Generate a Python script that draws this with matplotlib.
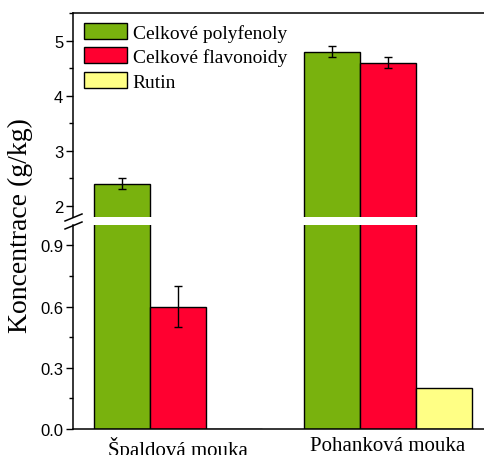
import numpy as np
import matplotlib
matplotlib.use("Agg")
import matplotlib.pyplot as plt
from matplotlib.lines import Line2D
from matplotlib.ticker import MultipleLocator

# data (g/kg)
categories = ["Špaldová mouka", "Pohanková mouka"]
series = ["Celkové polyfenoly", "Celkové flavonoidy", "Rutin"]
polyfenoly = [2.4, 4.8]
polyfenoly_err = [0.1, 0.1]
flavonoidy = [0.6, 4.6]
flavonoidy_err = [0.1, 0.1]
rutin = [0.0, 0.2]

colors = ["#79B20E", "#FF0030", "#FFFF85"]
serif = "Liberation Serif"
sans = "Liberation Sans"

W, H = 485, 456
fig = plt.figure(figsize=(W / 100, H / 100), dpi=100)

def px(x0, y0, x1, y1):
    # pixel box -> figure fraction rect
    return [x0 / W, (H - y1) / H, (x1 - x0) / W, (y1 - y0) / H]

ax_top = fig.add_axes(px(73, 14, 493, 218))
ax_bot = fig.add_axes(px(73, 226, 493, 430))

x = np.arange(1, len(categories) + 1)
bw = 0.267
vals = [polyfenoly, flavonoidy, rutin]
errs = [polyfenoly_err, flavonoidy_err, None]

for ax in (ax_top, ax_bot):
    for i, (v, e) in enumerate(zip(vals, errs)):
        ax.bar(x + (i - 1) * bw, v, bw, color=colors[i], edgecolor="black",
               linewidth=1.0, label=series[i], zorder=2)
        if e is not None:
            ax.errorbar(x + (i - 1) * bw, v, yerr=e, fmt="none", ecolor="black",
                        elinewidth=1.0, capsize=3.2, capthick=1.0, zorder=3)
    ax.set_xlim(0.5, 2.5)
    ax.spines["right"].set_visible(False)
    for s in ax.spines.values():
        s.set_linewidth(1.1)
    ax.tick_params(axis="y", which="major", direction="out", length=5, width=1.0,
                   labelsize=12, pad=2)
    ax.tick_params(axis="y", which="minor", direction="out", length=3, width=1.0)

ax_top.set_ylim(1.8, 5.5)
ax_top.yaxis.set_major_locator(MultipleLocator(1))
ax_top.yaxis.set_minor_locator(MultipleLocator(0.5))
ax_top.spines["bottom"].set_visible(False)
ax_top.set_xticks([])

ax_bot.set_ylim(0, 1.0)
ax_bot.yaxis.set_major_locator(MultipleLocator(0.3))
ax_bot.yaxis.set_minor_locator(MultipleLocator(0.15))
ax_bot.spines["top"].set_visible(False)
ax_bot.set_xticks(x)
ax_bot.set_xticklabels(categories, fontfamily=serif, fontsize=15)
ax_bot.tick_params(axis="x", length=0, pad=5)

for ax in (ax_top, ax_bot):
    for lab in ax.get_yticklabels():
        lab.set_fontfamily(sans)

# axis break marks
for yb in (222, 230):
    fig.add_artist(Line2D([65 / W, 82 / W], [(H - yb) / H, (H - yb + 7) / H],
                          color="black", linewidth=1.1))

fig.text(20 / W, (H - 226) / H, "Koncentrace (g/kg)", rotation=90,
         fontfamily=serif, fontsize=20, ha="center", va="center")

ax_top.legend(loc="upper left", bbox_to_anchor=(11 / 420, 1 - 10 / 204),
              frameon=False, borderaxespad=0, borderpad=0,
              prop={"family": serif, "size": 14}, handlelength=2.2,
              handleheight=0.88, handletextpad=0.3, labelspacing=0.3)

fig.savefig("out.png", dpi=100)
